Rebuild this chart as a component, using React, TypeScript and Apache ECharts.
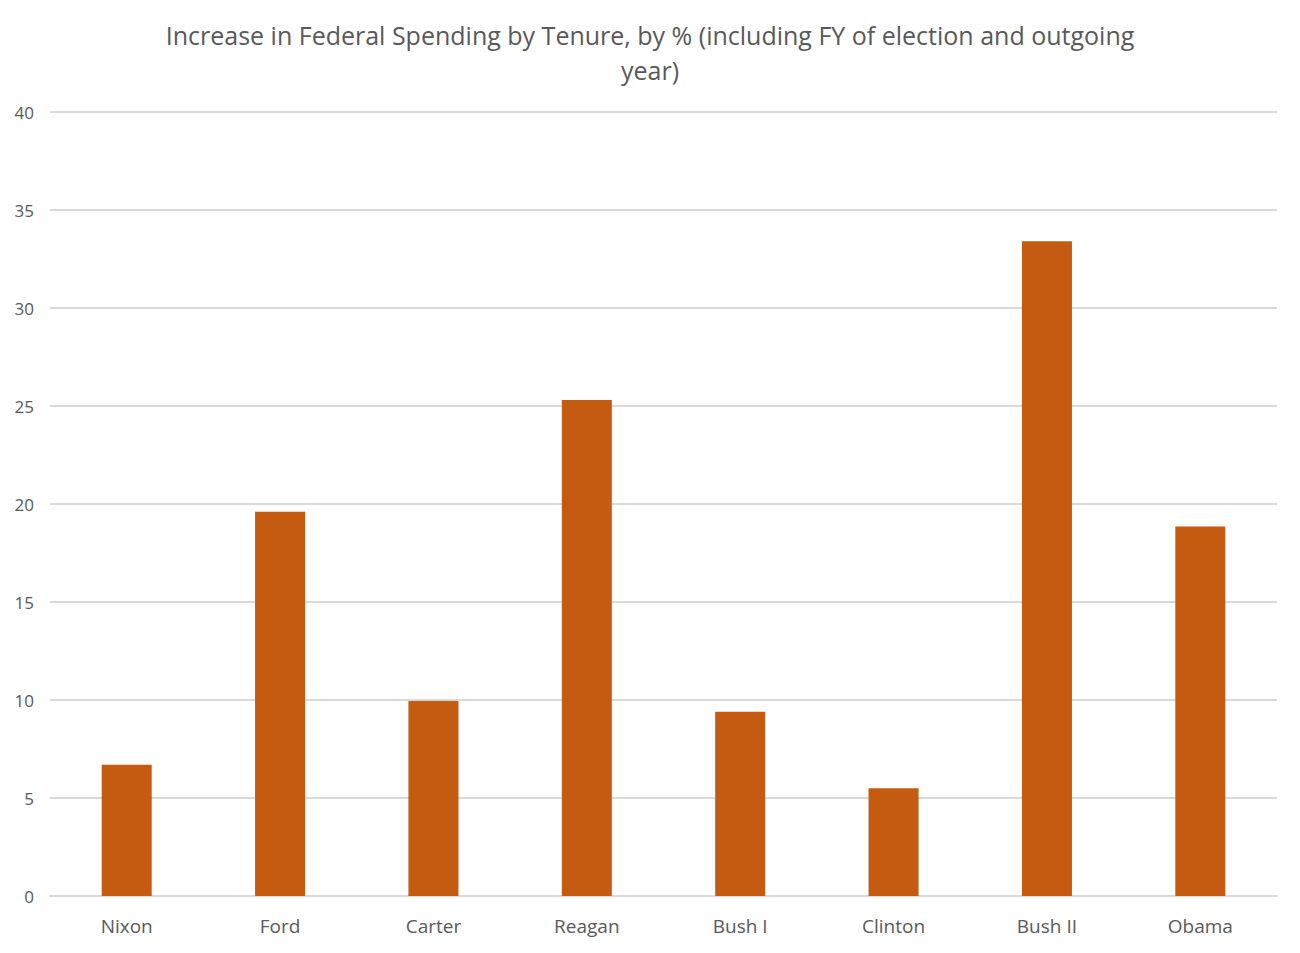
import React, { useEffect, useRef } from "react";
import * as echarts from "echarts";

const categories = ["Nixon", "Ford", "Carter", "Reagan", "Bush I", "Clinton", "Bush II", "Obama"];
const values = [6.7, 19.6, 9.95, 25.3, 9.4, 5.5, 33.4, 18.85];
const titleText = "Increase in Federal Spending by Tenure, by % (including FY of election and outgoing\nyear)";

export default function App() {
  const ref = useRef<HTMLDivElement>(null);
  useEffect(() => {
    const chart = echarts.init(ref.current!, null, { renderer: "svg" });
    chart.setOption({
      animation: false,
      backgroundColor: "#ffffff",
      title: {
        text: titleText,
        left: "center",
        top: 12,
        textStyle: {
          fontFamily: "Open Sans",
          fontSize: 25,
          fontWeight: "normal",
          color: "#595959",
          lineHeight: 35,
        },
      },
      grid: { left: 50, right: 23, top: 112, bottom: 57, containLabel: false },
      xAxis: {
        type: "category",
        data: categories,
        axisLine: { show: true, lineStyle: { color: "#d9d9d9", width: 2 } },
        axisTick: { show: false },
        axisLabel: { fontFamily: "Open Sans", fontSize: 19, color: "#595959", margin: 20 },
      },
      yAxis: {
        type: "value",
        min: 0,
        max: 40,
        interval: 5,
        axisLine: { show: false },
        axisTick: { show: false },
        splitLine: { lineStyle: { color: "#d9d9d9", width: 2 } },
        axisLabel: { fontFamily: "Open Sans", fontSize: 17, color: "#595959", margin: 16 },
      },
      series: [
        {
          type: "bar",
          data: values,
          barWidth: 50,
          itemStyle: { color: "#C55A11" },
        },
      ],
    });
    return () => chart.dispose();
  }, []);
  return <div ref={ref} style={{ position: "fixed", left: 0, top: 0, width: 1300, height: 953 }} />;
}
